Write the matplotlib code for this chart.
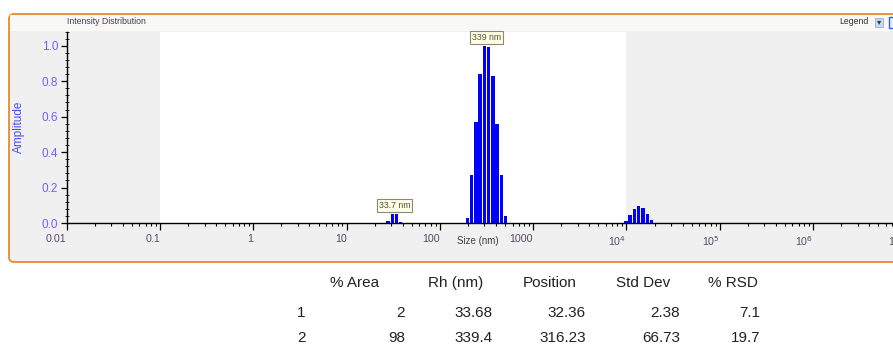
import numpy as np
import matplotlib
matplotlib.use("Agg")
import matplotlib.pyplot as plt
from matplotlib.patches import FancyBboxPatch, Rectangle
from matplotlib.transforms import IdentityTransform
from matplotlib.ticker import MultipleLocator, LogLocator, NullFormatter

# ---------------- data ----------------
peak1_sizes = [27.9, 30.9, 34.4, 38.1]
peak1_amp = [0.013, 0.053, 0.052, 0.005]
peak2_sizes = [197.4, 219.1, 243.4, 270.2, 300.1, 333.3, 370.0, 411.0, 456.3, 506.7]
peak2_amp = [0.03, 0.27, 0.57, 0.84, 1.0, 0.99, 0.83, 0.56, 0.27, 0.04]
peak3_sizes = [9886, 10900, 12140, 13530, 15030, 16710, 18620]
peak3_amp = [0.013, 0.043, 0.081, 0.098, 0.085, 0.051, 0.015]

peak_labels = ["33.7 nm", "339 nm"]

xtick_vals = [0.01, 0.1, 1, 10, 100, 1000, 1e4, 1e5, 1e6, 1e7]
xtick_labels = ["0.01", "0.1", "1", "10", "100", "1000",
                r"10$^4$", r"10$^5$", r"10$^6$", r"10$^7$"]
ytick_vals = [0.0, 0.2, 0.4, 0.6, 0.8, 1.0]

table_header = ["% Area", "Rh (nm)", "Position", "Std Dev", "% RSD"]
table_rows = ["1", "2"]
pct_area = ["2", "98"]
rh_nm = ["33.68", "339.4"]
position = ["32.36", "316.23"]
std_dev = ["2.38", "66.73"]
pct_rsd = ["7.1", "19.7"]

# ---------------- figure ----------------
W, H = 893, 348
plt.rcParams['font.family'] = ['Liberation Sans', 'DejaVu Sans']
fig = plt.figure(figsize=(W / 100, H / 100), dpi=100)
fig.patch.set_facecolor('white')

def px(x, y):
    """pixel (from top-left) -> figure fraction"""
    return x / W, 1 - y / H

# orange rounded frame
frame = FancyBboxPatch((9, H - 262), 900, 248,
                       boxstyle="round,pad=0,rounding_size=5",
                       transform=IdentityTransform(),
                       facecolor='#f0f0f0', edgecolor='#e8892b',
                       linewidth=1.3, zorder=-10)
fig.add_artist(frame)
strip = Rectangle((10, H - 31), 890, 16, transform=IdentityTransform(),
                  facecolor='#f8f8f6', edgecolor='none', zorder=-9)
fig.add_artist(strip)

fx, fy = px(67, 22)
fig.text(fx, fy, "Intensity Distribution", fontsize=6.3, color='#4a3a5a',
         ha='left', va='center')
fx, fy = px(868, 22)
fig.text(fx, fy, "Legend", fontsize=6.3, color='#333333', ha='right', va='center')
fig.add_artist(Rectangle((875, H - 27), 8, 9, transform=IdentityTransform(),
                         facecolor='#c8d8f0', edgecolor='#9ab0d0', linewidth=0.6, zorder=5))
fx, fy = px(879, 23)
fig.text(fx, fy, "▾", fontsize=6, color='#335', ha='center', va='center', zorder=6)
fig.add_artist(Rectangle((889, H - 28), 9, 11, transform=IdentityTransform(),
                         facecolor='#e8f0ff', edgecolor='#3060e0', linewidth=1.0, zorder=5))

# axes
left, right = 66.7, 906.4
top, bottom = 31.5, 223.0
ax = fig.add_axes([left / W, 1 - bottom / H, (right - left) / W, (bottom - top) / H])
ax.set_facecolor('#f0f0f0')
ax.set_xscale('log')
ax.set_xlim(0.01, 1e7)
ax.set_ylim(0, 1.08)
ax.axvspan(0.1, 1e4, color='white', zorder=0, lw=0)

w = 0.036  # bar width in decades
for sizes, amps in [(peak1_sizes, peak1_amp), (peak2_sizes, peak2_amp), (peak3_sizes, peak3_amp)]:
    s = np.array(sizes)
    lefts = s * 10 ** (-w / 2)
    widths = s * (10 ** (w / 2) - 10 ** (-w / 2))
    ax.bar(lefts, amps, width=widths, align='edge', color='#0000ff', zorder=3)

# peak labels
for sizes, amps, lab in [(peak1_sizes, peak1_amp, peak_labels[0]),
                         (peak2_sizes, peak2_amp, peak_labels[1])]:
    xc = 10 ** np.mean(np.log10(sizes))
    ax.annotate(lab, xy=(xc, max(amps)), xytext=(0, 2.5), textcoords='offset points',
                ha='center', va='bottom', fontsize=6.3, color='#505040', zorder=5,
                bbox=dict(boxstyle='square,pad=0.25', facecolor='#ffffe4',
                          edgecolor='#8a8a7a', linewidth=0.8))

for sp in ['top', 'right']:
    ax.spines[sp].set_visible(False)
ax.spines['left'].set_linewidth(1.0)
ax.spines['bottom'].set_linewidth(1.0)
ax.spines['left'].set_zorder(4)
ax.spines['bottom'].set_zorder(4)

ax.set_xticks(xtick_vals, xtick_labels)
ax.xaxis.set_minor_locator(LogLocator(base=10, subs=np.arange(2, 10)))
ax.xaxis.set_minor_formatter(NullFormatter())
for lbl in ax.get_xticklabels():
    lbl.set_horizontalalignment('right')
ax.tick_params(axis='x', which='major', length=5, width=0.9, direction='out',
               labelsize=7.7, labelcolor='#5a4a6a', pad=3)
ax.tick_params(axis='x', which='minor', length=2.5, width=0.8, direction='out')

ax.set_yticks(ytick_vals, [f"{v:.1f}" for v in ytick_vals])
ax.yaxis.set_minor_locator(MultipleLocator(0.04))
ax.tick_params(axis='y', which='major', length=4, width=0.9, direction='out',
               labelsize=8.5, labelcolor='#7b5cff', pad=2)
ax.tick_params(axis='y', which='minor', length=3, width=0.6, direction='inout')

ax.set_ylabel("Amplitude", fontsize=8.5, color='#4a4aff', va='center')
ax.yaxis.set_label_coords(-0.057, 0.5)
ax.set_xlabel("Size (nm)", fontsize=7, color='#404040', va='center')
ax.xaxis.set_label_coords(0.49, -0.094)

# table
fs = 11
tc = '#222222'
hdr_x = [330, 428, 523, 616, 708]
for x, t in zip(hdr_x, table_header):
    fx, fy = px(x, 283)
    fig.text(fx, fy, t, fontsize=fs, color=tc, ha='left', va='center')
cols = [pct_area, rh_nm, position, std_dev, pct_rsd]
col_right = [405, 493, 586, 680, 760]
row_y = [313, 338]
for i, (r, y) in enumerate(zip(table_rows, row_y)):
    fx, fy = px(297, y)
    fig.text(fx, fy, r, fontsize=fs, color=tc, ha='left', va='center')
    for c, xr in zip(cols, col_right):
        fx, fy = px(xr, y)
        fig.text(fx, fy, c[i], fontsize=fs, color=tc, ha='right', va='center')

fig.savefig("out.png", dpi=100)
